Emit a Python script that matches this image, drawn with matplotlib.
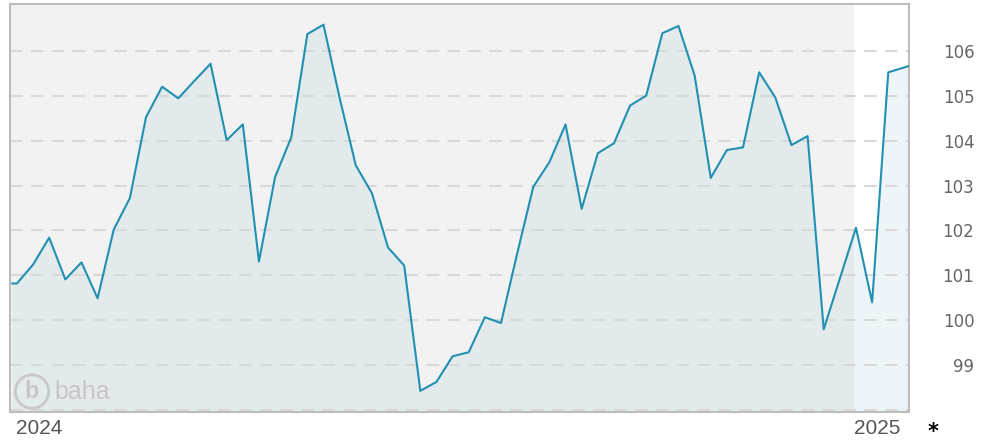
import numpy as np
import pandas as pd
import matplotlib
matplotlib.use("Agg")
from matplotlib import pyplot as plt
from matplotlib.patches import Rectangle
from matplotlib.transforms import ScaledTranslation
import matplotlib.dates as mdates

# weekly closes (plus first and last day)
first_date = "2024-01-02"
last_date = "2025-01-25"
first_value = 100.82
last_value = 105.66
weekly_start = "2024-01-04"
weekly_values = [100.82, 101.24, 101.84, 100.91, 101.29, 100.49, 102.02, 102.72, 104.52, 105.20,
                 104.94, 105.33, 105.71, 104.01, 104.36, 101.31, 103.19, 104.07, 106.37, 106.58,
                 104.95, 103.45, 102.83, 101.62, 101.22, 98.43, 98.63, 99.20, 99.29, 100.07,
                 99.94, 101.48, 102.97, 103.52, 104.36, 102.48, 103.72, 103.94, 104.78, 105.00,
                 106.39, 106.55, 105.45, 103.17, 103.79, 103.85, 105.52, 104.96, 103.90, 104.10,
                 99.80, 100.93, 102.06, 100.40, 105.52]
y_ticks = [99, 100, 101, 102, 103, 104, 105, 106]
year_labels = ["2024", "2025"]

weekly_dates = pd.date_range(weekly_start, periods=len(weekly_values), freq="7D")
dates = [pd.Timestamp(first_date)] + list(weekly_dates) + [pd.Timestamp(last_date)]
values = [first_value] + weekly_values + [last_value]
x = mdates.date2num(dates)

x_start = mdates.date2num(pd.Timestamp("2024-01-01"))
x_split = mdates.date2num(pd.Timestamp("2025-01-01"))
x_end = mdates.date2num(pd.Timestamp(last_date))
y_min, y_max = 97.96, 107.04

fig = plt.figure(figsize=(9.94, 4.41), dpi=100)
ax = fig.add_axes([10 / 994, 29 / 441, 899 / 994, 408 / 441])
ax.set_facecolor("#f2f2f2")
ax.axvspan(x_split, x_end, color="white", lw=0, zorder=0)

# area under the line, lighter tint after the new year
fill_past = ax.fill_between(x, values, y_min, color="#e3eaec", lw=0, zorder=1)
fill_past.set_clip_path(Rectangle((x_start, y_min), x_split - x_start, y_max - y_min,
                                  transform=ax.transData))
fill_new = ax.fill_between(x, values, y_min, color="#eef5f8", lw=0, zorder=1)
fill_new.set_clip_path(Rectangle((x_split, y_min), x_end - x_split, y_max - y_min,
                                 transform=ax.transData))

for v in range(98, 107):
    ax.axhline(v, color="#d8d8d8", lw=1.5, ls=(0, (6, 4)), zorder=2)

ax.plot(x, values, color="#2190b3", lw=1.5, zorder=3)

ax.set_xlim(x_start, x_end)
ax.set_ylim(y_min, y_max)

ax.yaxis.tick_right()
ax.set_yticks(y_ticks)
ax.set_yticklabels([str(t) for t in y_ticks], fontsize=12, color="#666666", ha="right")
ax.tick_params(axis="y", length=0, pad=47)

ax.set_xticks([x_start, x_split])
ax.set_xticklabels(year_labels, fontsize=15, color="#555555", ha="left",
                   family="Liberation Sans")
ax.tick_params(axis="x", length=0, pad=5)
# first year label sits a little inside the frame
lbl = ax.get_xticklabels()[0]
lbl.set_transform(lbl.get_transform() + ScaledTranslation(0.06, 0, fig.dpi_scale_trans))

for side in ax.spines.values():
    side.set_color("#bdbdbd")
    side.set_linewidth(1.5)

# baha watermark
ax.text(0.0165, 0.05, "b", transform=ax.transAxes, fontsize=17, fontweight="bold",
        color="#c6c6c6", ha="left", va="center", family="Liberation Sans",
        bbox=dict(boxstyle="circle,pad=0.22", fc="none", ec="#c9c9c9", lw=2), zorder=4)
ax.text(0.0495, 0.05, "baha", transform=ax.transAxes, fontsize=18, color="#c6c6c6",
        ha="left", va="center", family="Liberation Sans", zorder=4)

fig.text(933 / 994, 1 - 432 / 441, "*", fontsize=15, fontweight="bold", color="black",
         ha="center", va="center")

fig.savefig("out.png", dpi=100)
